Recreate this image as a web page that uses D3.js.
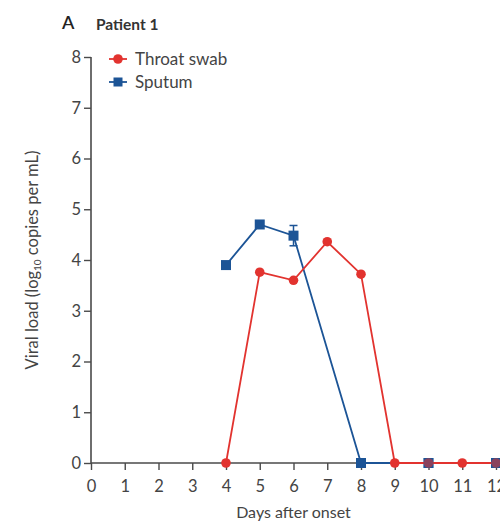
<!DOCTYPE html>
<html><head><meta charset="utf-8">
<script src="https://cdn.jsdelivr.net/npm/d3@7"></script>
<style>body{margin:0;background:#fff}svg{display:block}</style>
</head><body>
<svg id="c" width="500" height="526"></svg>
<script>
const throatDays = [4,5,6,7,8,9,10,11,12];
const throatVals = [0,3.76,3.6,4.36,3.72,0,0,0,0];
const sputumDays = [4,5,6,8,10,12];
const sputumVals = [3.9,4.7,4.48,0,0,0];
const sputumErr  = [0,0,0.2,0,0,0];
const xTicks = [0,1,2,3,4,5,6,7,8,9,10,11,12];
const yTicks = [0,1,2,3,4,5,6,7,8];

const red = "#e2332f", blue = "#1c5496", axisCol = "#4a4a4a", txt = "#444";
const font = "Lato, 'Open Sans', sans-serif";
const svg = d3.select("#c");
const x = d3.scaleLinear().domain([0,12]).range([91,496]);
const y = d3.scaleLinear().domain([0,8]).range([463,57]);

// axes
const xa = svg.append("g").attr("transform","translate(0,463)")
  .call(d3.axisBottom(x).tickValues(xTicks).tickSize(7).tickPadding(10).tickFormat(d3.format("d")));
xa.select(".domain").remove();
svg.append("line").attr("x1",x(0)).attr("x2",510).attr("y1",463).attr("y2",463)
  .attr("stroke",axisCol).attr("stroke-width",1.6);
const ya = svg.append("g").attr("transform","translate(91,0)")
  .call(d3.axisLeft(y).tickValues(yTicks).tickSize(7).tickPadding(3).tickFormat(d3.format("d")));
ya.select(".domain").attr("stroke",axisCol).attr("stroke-width",1.6).attr("d","M0,"+y(8)+"V"+y(0));
[xa,ya].forEach(a=>{
  a.selectAll(".tick line").attr("stroke",axisCol).attr("stroke-width",1.4);
  a.selectAll(".tick text").attr("fill",txt).style("font-family",font).style("font-size","16.5px");
});

// lines
const line = d3.line().x(d=>x(d[0])).y(d=>y(d[1]));
const sp = sputumDays.map((d,i)=>[d,sputumVals[i],sputumErr[i]]);
const th = throatDays.map((d,i)=>[d,throatVals[i]]);
svg.append("path").datum(sp).attr("d",line).attr("fill","none").attr("stroke",blue).attr("stroke-width",1.8);
// error bars
sp.filter(d=>d[2]>0).forEach(d=>{
  const g = svg.append("g").attr("stroke",blue).attr("stroke-width",1.5);
  g.append("line").attr("x1",x(d[0])).attr("x2",x(d[0])).attr("y1",y(d[1]+d[2])).attr("y2",y(d[1]-d[2]));
  [d[1]+d[2],d[1]-d[2]].forEach(v=>g.append("line").attr("x1",x(d[0])-4).attr("x2",x(d[0])+4).attr("y1",y(v)).attr("y2",y(v)));
});
svg.selectAll(".sq").data(sp).enter().append("rect").attr("class","sq")
  .attr("x",d=>x(d[0])-5).attr("y",d=>y(d[1])-5).attr("width",10).attr("height",10).attr("fill",blue);
svg.append("path").datum(th).attr("d",line).attr("fill","none").attr("stroke",red).attr("stroke-width",1.8);
svg.selectAll(".ci").data(th).enter().append("circle").attr("class","ci")
  .attr("cx",d=>x(d[0])).attr("cy",d=>y(d[1])).attr("r",4.8).attr("fill",red);
// overlap tint for squares under red
svg.selectAll(".sq2").data(sp.filter(d=>throatDays.includes(d[0]) && d[1]===0 && d[0]!==8)).enter().append("rect")
  .attr("x",d=>x(d[0])-5).attr("y",d=>y(d[1])-5).attr("width",10).attr("height",10).attr("fill",blue).attr("opacity",0.45);

// legend
const leg = [{n:"Throat swab",c:red,s:"c"},{n:"Sputum",c:blue,s:"s"}];
leg.forEach((l,i)=>{
  const ly = 59 + i*23, lx = 118;
  svg.append("line").attr("x1",lx-9).attr("x2",lx+9).attr("y1",ly).attr("y2",ly).attr("stroke",l.c).attr("stroke-width",1.8);
  if(l.s==="c") svg.append("circle").attr("cx",lx).attr("cy",ly).attr("r",4.8).attr("fill",l.c);
  else svg.append("rect").attr("x",lx-4.5).attr("y",ly-4.5).attr("width",9).attr("height",9).attr("fill",l.c);
  svg.append("text").attr("x",lx+17).attr("y",ly+6).text(l.n).attr("fill",txt)
    .style("font-family",font).style("font-size","17px");
});

// titles
svg.append("text").attr("x",62).attr("y",29).text("A").attr("fill","#222")
  .style("font-family",font).style("font-size","18px").style("font-weight","600");
svg.append("text").attr("x",96).attr("y",30).text("Patient 1").attr("fill","#333")
  .style("font-family",font).style("font-size","15.5px").style("font-weight","700");
svg.append("text").attr("x",x(6)).attr("y",518).attr("text-anchor","middle").text("Days after onset")
  .attr("fill",txt).style("font-family",font).style("font-size","16px");
const yl = svg.append("text").attr("transform","translate(38,"+((y(0)+y(8))/2)+") rotate(-90)")
  .attr("text-anchor","middle").attr("fill",txt).style("font-family",font).style("font-size","16.5px");
yl.append("tspan").text("Viral load (log");
yl.append("tspan").text("10").style("font-size","10px").attr("dy",3);
yl.append("tspan").text(" copies per mL)").attr("dy",-3);
</script>
</body></html>
